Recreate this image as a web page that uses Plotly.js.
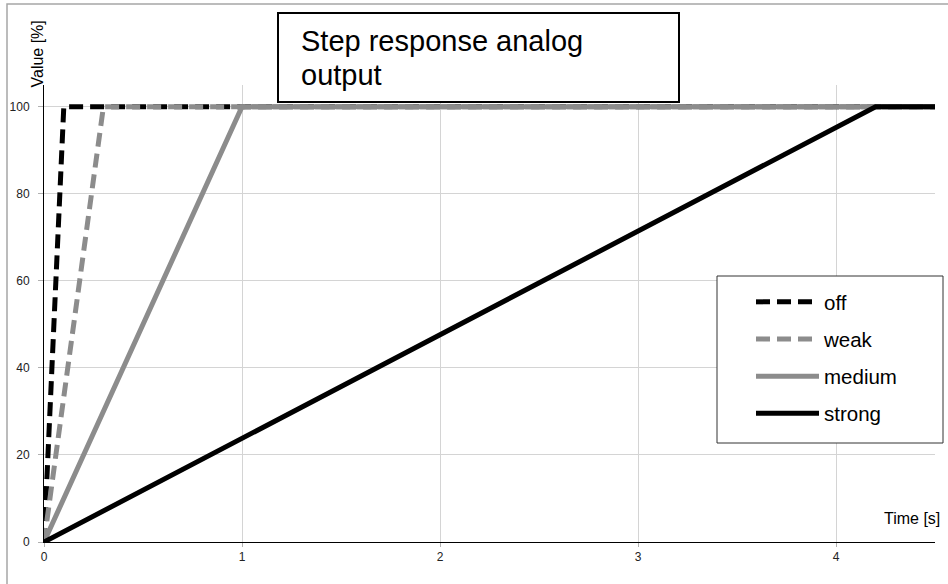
<!DOCTYPE html>
<html>
<head>
<meta charset="utf-8">
<script src="https://cdn.plot.ly/plotly-3.0.1.min.js"></script>
<style>html,body{margin:0;padding:0;background:#fff;}#chart{width:948px;height:584px;}</style>
</head>
<body>
<div id="chart"></div>
<script>
// ---- data ----
const seriesNames = ["off", "weak", "medium", "strong"];
const offTime = [0, 0.1, 4.5];
const offValue = [0, 100, 100];
const weakTime = [0, 0.3, 4.5];
const weakValue = [0, 100, 100];
const mediumTime = [0, 1, 4.5];
const mediumValue = [0, 100, 100];
const strongTime = [0, 4.2, 4.5];
const strongValue = [0, 100, 100];
const xTickVals = [0, 1, 2, 3, 4];
const yTickVals = [0, 20, 40, 60, 80, 100];
const titleLines = ["Step response analog", "output"];
const xTitle = "Time [s]";
const yTitle = "Value [%]";

// ---- layout helpers ----
const W = 948, H = 584;
const M = {l: 44, r: 13, t: 85, b: 42};
const pw = W - M.l - M.r, ph = H - M.t - M.b;
const px = x => (x - M.l) / pw;
const py = y => 1 - (y - M.t) / ph;
const FONT = "Liberation Sans, Arial, sans-serif";
const BLACK = "#000000", GRAY = "#8c8c8c";

const traces = [
  {x: offTime, y: offValue, name: seriesNames[0], line: {color: BLACK, width: 5, dash: "14px,7px"}},
  {x: weakTime, y: weakValue, name: seriesNames[1], line: {color: GRAY, width: 5, dash: "14px,7px"}},
  {x: mediumTime, y: mediumValue, name: seriesNames[2], line: {color: GRAY, width: 5}},
  {x: strongTime, y: strongValue, name: seriesNames[3], line: {color: BLACK, width: 5}}
].map((t, i) => Object.assign(t, {type: "scatter", mode: "lines", legendgroup: "g" + i, hoverinfo: "x+y+name"}));

const layout = {
  width: W, height: H,
  margin: M,
  paper_bgcolor: "#ffffff", plot_bgcolor: "#ffffff",
  font: {family: FONT, color: "#000"},
  showlegend: true,
  legend: {
    x: px(751), y: py(282), xanchor: "left", yanchor: "top",
    bgcolor: "rgba(0,0,0,0)", borderwidth: 0,
    font: {family: FONT, size: 20.5, color: "#000"},
    itemwidth: 63, tracegroupgap: 7.5
  },
  xaxis: {
    range: [0, 4.5], tickvals: xTickVals, ticktext: xTickVals.map(String),
    showgrid: true, gridcolor: "#d4d4d4", gridwidth: 1,
    showline: true, linecolor: "#000", linewidth: 1, zeroline: false,
    ticks: "outside", ticklen: 4, tickcolor: "#b0b0b0",
    tickfont: {family: FONT, size: 12, color: "#222"}, fixedrange: true
  },
  yaxis: {
    range: [0, 105], tickvals: yTickVals, ticktext: yTickVals.map(String),
    showgrid: true, gridcolor: "#d4d4d4", gridwidth: 1,
    showline: true, linecolor: "#000", linewidth: 1, zeroline: false,
    ticks: "outside", ticklen: 5, tickcolor: "#b0b0b0", ticklabelstandoff: 6,
    tickfont: {family: FONT, size: 12, color: "#222"}, fixedrange: true
  },
  shapes: [
    {type: "rect", xref: "paper", yref: "paper", x0: px(7), x1: px(1200), y0: py(4), y1: py(900),
     line: {color: "#a6a6a6", width: 1.5}, fillcolor: "rgba(0,0,0,0)", layer: "above"},
    {type: "rect", xref: "paper", yref: "paper", x0: px(278), x1: px(679), y0: py(13), y1: py(102),
     line: {color: "#000", width: 2}, fillcolor: "#ffffff", layer: "above"},
    {type: "rect", xref: "paper", yref: "paper", x0: px(717), x1: px(943), y0: py(276), y1: py(443),
     line: {color: "#333", width: 1}, fillcolor: "#ffffff", layer: "above"}
  ],
  annotations: [
    {text: titleLines[0], xref: "paper", yref: "paper", x: px(299), y: py(41), xanchor: "left", yanchor: "middle",
     showarrow: false, font: {family: FONT, size: 29, color: "#000"}},
    {text: titleLines[1], xref: "paper", yref: "paper", x: px(299), y: py(75), xanchor: "left", yanchor: "middle",
     showarrow: false, font: {family: FONT, size: 29, color: "#000"}},
    {text: yTitle, xref: "paper", yref: "paper", x: px(37.5), y: py(54), xanchor: "center", yanchor: "middle",
     textangle: -90, showarrow: false, font: {family: FONT, size: 16, color: "#000"}},
    {text: xTitle, xref: "paper", yref: "paper", x: px(942), y: py(518), xanchor: "right", yanchor: "middle",
     showarrow: false, font: {family: FONT, size: 16, color: "#000"}}
  ]
};

Plotly.newPlot("chart", traces, layout, {displayModeBar: false, staticPlot: true});
</script>
</body>
</html>
